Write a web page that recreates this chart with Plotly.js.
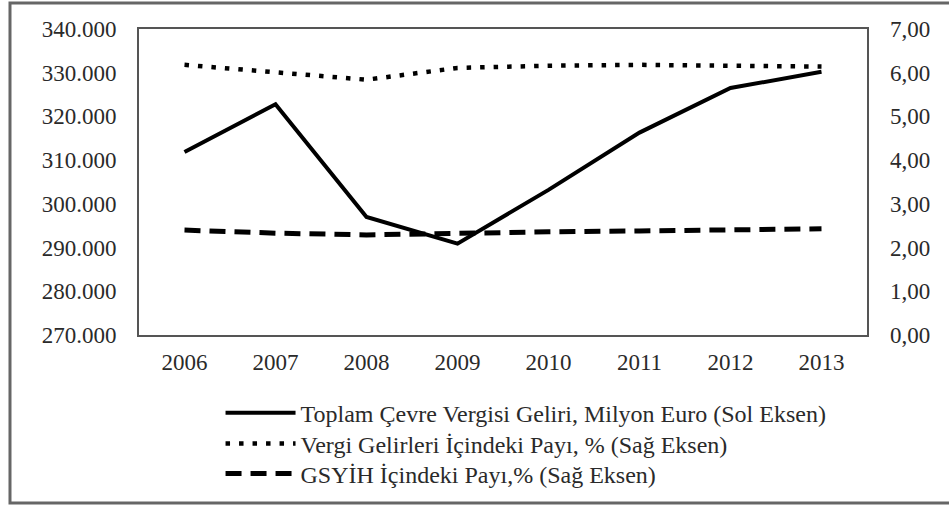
<!DOCTYPE html>
<html>
<head>
<meta charset="utf-8">
<script src="https://cdn.plot.ly/plotly-3.0.1.min.js"></script>
<style>
html,body{margin:0;padding:0;background:#fff;}
#chart{width:949px;height:509px;}
</style>
</head>
<body>
<div id="chart"></div>
<script>
const years = ['2006','2007','2008','2009','2010','2011','2012','2013'];
const toplamCevreVergisi = [311850, 322800, 297000, 290900, 303200, 316300, 326500, 330200];
const vergiGelirleriPayi = [6.18, 6.00, 5.84, 6.11, 6.16, 6.18, 6.16, 6.14];
const gsyihPayi = [2.40, 2.33, 2.29, 2.33, 2.36, 2.38, 2.40, 2.43];
const seriesNames = [
  'Toplam Çevre Vergisi Geliri, Milyon Euro (Sol Eksen)',
  'Vergi Gelirleri İçindeki Payı, % (Sağ Eksen)',
  'GSYİH İçindeki Payı,% (Sağ Eksen)'
];

const fontFam = '"Liberation Serif", "Times New Roman", serif';
const txt = '#2a2a2a';

const traces = [
  {x: years, y: toplamCevreVergisi, name: seriesNames[0], type: 'scatter', mode: 'lines',
   line: {color: '#000', width: 4}, yaxis: 'y', legend: 'legend'},
  {x: years, y: vergiGelirleriPayi, name: seriesNames[1], type: 'scatter', mode: 'lines',
   line: {color: '#000', width: 4.5, dash: '4.5px,9px'}, yaxis: 'y2', legend: 'legend2'},
  {x: years, y: gsyihPayi, name: seriesNames[2], type: 'scatter', mode: 'lines',
   line: {color: '#000', width: 5, dash: '16px,9px'}, yaxis: 'y2', legend: 'legend3'}
];

function leg(y) {
  return {x: 0.112, y: y, xanchor: 'left', yanchor: 'middle',
    bgcolor: 'rgba(0,0,0,0)', itemwidth: 70,
    font: {family: fontFam, size: 24, color: txt}};
}

const layout = {
  width: 949, height: 509,
  margin: {l: 139, r: 82, t: 29, b: 174},
  paper_bgcolor: '#fff', plot_bgcolor: '#fff',
  separators: ',.',
  font: {family: fontFam, size: 23, color: txt},
  showlegend: true,
  legend: leg(-0.255),
  legend2: leg(-0.356),
  legend3: leg(-0.454),
  xaxis: {type: 'category', range: [-0.5, 7.5], showgrid: false, zeroline: false,
    showline: true, mirror: true, linecolor: '#555', linewidth: 2,
    ticks: '', ticklabelstandoff: 5, tickfont: {family: fontFam, size: 23, color: txt}},
  yaxis: {range: [270000, 340000], dtick: 10000, tickformat: ',d', showgrid: false, zeroline: false,
    showline: true, mirror: true, linecolor: '#555', linewidth: 2, ticks: '',
    ticklabelstandoff: 16, tickfont: {family: fontFam, size: 23, color: txt}},
  yaxis2: {range: [0, 7], dtick: 1, tickformat: '.2f', overlaying: 'y', side: 'right',
    showgrid: false, zeroline: false, showline: false, ticks: '',
    ticklabelstandoff: 22, tickfont: {family: fontFam, size: 23, color: txt}},
  shapes: [{type: 'rect', xref: 'paper', yref: 'paper',
    x0: -0.1772, x1: 1.2, y0: -0.549, y1: 1.085,
    line: {color: '#666', width: 3}, fillcolor: 'rgba(0,0,0,0)', layer: 'below'}]
};

Plotly.newPlot('chart', traces, layout, {displayModeBar: false, staticPlot: true});
</script>
</body>
</html>
